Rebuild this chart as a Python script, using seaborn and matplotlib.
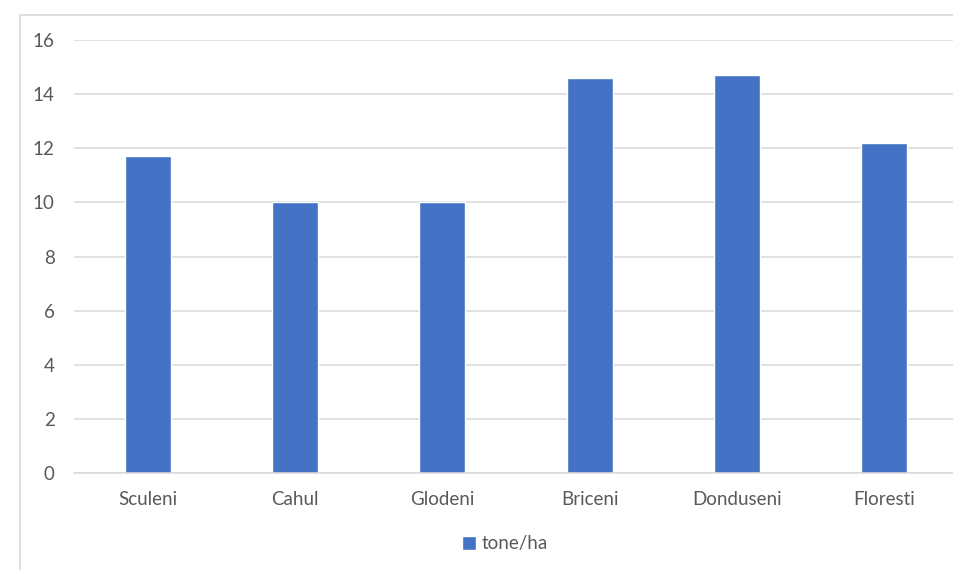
import matplotlib
matplotlib.use("Agg")
import pandas as pd
import matplotlib.pyplot as plt
import seaborn as sns
from matplotlib.patches import Rectangle

districts = ["Sculeni", "Cahul", "Glodeni", "Briceni", "Donduseni", "Floresti"]
yields = [11.7, 10.0, 10.0, 14.6, 14.7, 12.2]
y_ticks = [0, 2, 4, 6, 8, 10, 12, 14, 16]
series_name = "tone/ha"

df = pd.DataFrame({"district": districts, "value": yields})

sns.set_style("white")
plt.rcParams["font.family"] = ["Lato", "DejaVu Sans"]

text_grey = "#595959"
grid_grey = "#D9D9D9"
bar_blue = "#4472C4"

fig = plt.figure(figsize=(9.54, 5.70), dpi=100)
ax = fig.add_axes([74 / 954, 1 - 473 / 570, 884 / 954, 433 / 570])

sns.barplot(data=df, x="district", y="value", color=bar_blue, width=0.31,
            saturation=1, ax=ax, label=series_name)

ax.set_ylim(0, 16)
ax.set_yticks(y_ticks)
ax.set_xlim(-0.5, len(districts) - 0.5)
ax.yaxis.grid(True, color=grid_grey, linewidth=1.1)
ax.set_axisbelow(True)
for s in ["top", "right", "left"]:
    ax.spines[s].set_visible(False)
ax.spines["bottom"].set_color(grid_grey)
ax.spines["bottom"].set_linewidth(1.1)
ax.set_xlabel("")
ax.set_ylabel("")
ax.tick_params(axis="y", length=0, pad=14, labelsize=13.5, labelcolor=text_grey)
ax.tick_params(axis="x", length=0, pad=13, labelsize=13.5, labelcolor=text_grey)

# outer chart border (cropped on the right / bottom)
fig.patches.append(Rectangle((20 / 954, -0.05), 1.1, 1 - 15 / 570 + 0.05,
                             transform=fig.transFigure, fill=False,
                             edgecolor=grid_grey, linewidth=1.2))

handles, labels = ax.get_legend_handles_labels()
ax.legend_.remove() if ax.legend_ else None
fig.legend(handles, labels, loc="center", bbox_to_anchor=(505 / 954, 1 - 544 / 570),
           frameon=False, fontsize=13.5, labelcolor=text_grey,
           handlelength=0.7, handleheight=0.7, handletextpad=0.3)

fig.savefig("out.png", dpi=100)
